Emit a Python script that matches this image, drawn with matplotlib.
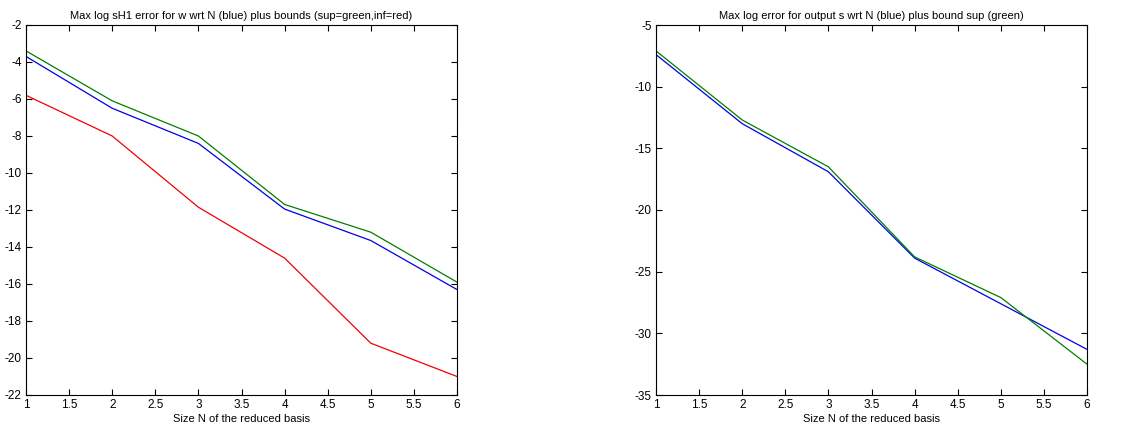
import matplotlib as mpl
mpl.use("Agg")
import matplotlib.pyplot as plt

# reduced basis size N
N = [1, 2, 3, 4, 5, 6]

# left panel: max log sH1 error and bounds
err_w = [-3.7, -6.5, -8.4, -11.95, -13.65, -16.3]
sup_w = [-3.4, -6.1, -8.0, -11.7, -13.2, -15.9]
inf_w = [-5.8, -8.0, -11.85, -14.6, -19.2, -21.0]

# right panel: max log output error and sup bound
err_s = [-7.4, -13.0, -16.9, -23.9, -27.6, -31.3]
sup_s = [-7.1, -12.7, -16.5, -23.8, -27.1, -32.5]

xticks = [1, 1.5, 2, 2.5, 3, 3.5, 4, 4.5, 5, 5.5, 6]
xticklabels = ['1', '1.5', '2', '2.5', '3', '3.5', '4', '4.5', '5', '5.5', '6']

plt.rcParams['font.family'] = ['Liberation Sans', 'DejaVu Sans']
plt.rcParams['font.size'] = 8
plt.rcParams['axes.unicode_minus'] = False

fig = plt.figure(figsize=(11.4, 4.33), dpi=100)
W, H = 1140.0, 433.0
ax1 = fig.add_axes([26 / W, (H - 395) / H, 431 / W, 370 / H])
ax2 = fig.add_axes([656 / W, (H - 395) / H, 431 / W, 370 / H])

ax1.plot(N, err_w, color=(0, 0, 0.9), lw=0.9)
ax1.plot(N, sup_w, color=(0, 0.5, 0), lw=0.9)
ax1.plot(N, inf_w, color=(0.95, 0, 0), lw=0.9)
ax1.set_ylim(-22, -2)
ax1.set_yticks(range(-22, -1, 2))
ax1.set_title('Max log sH1 error for w wrt N (blue) plus bounds (sup=green,inf=red)', fontsize=8, pad=4)

ax2.plot(N, err_s, color=(0, 0, 0.9), lw=0.9)
ax2.plot(N, sup_s, color=(0, 0.5, 0), lw=0.9)
ax2.set_ylim(-35, -5)
ax2.set_yticks(range(-35, -4, 5))
ax2.set_title('Max log error for output s wrt N (blue) plus bound sup (green)', fontsize=8, pad=4)

for ax in (ax1, ax2):
    ax.set_xlim(1, 6)
    ax.set_xticks(xticks)
    ax.set_xticklabels(xticklabels)
    ax.set_xlabel('Size N of the reduced basis', fontsize=8, labelpad=2)
    ax.tick_params(direction='in', top=True, right=True, length=4, width=0.8, labelsize=8.5, pad=3)
    for s in ax.spines.values():
        s.set_linewidth(0.8)

plt.savefig('out.png', dpi=100)
